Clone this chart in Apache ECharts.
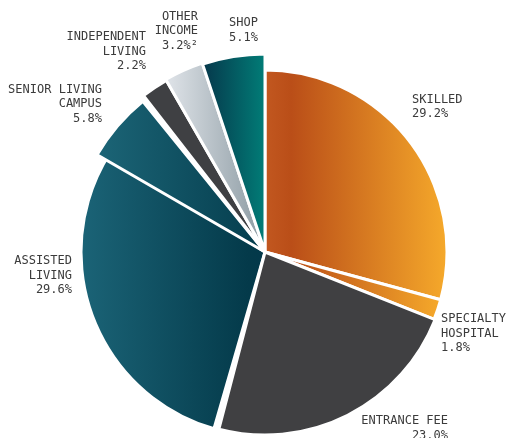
<!DOCTYPE html>
<html>
<head>
<meta charset="utf-8">
<script src="https://cdn.jsdelivr.net/npm/echarts@6/dist/echarts.min.js"></script>
<style>
  html, body { margin: 0; padding: 0; background: #ffffff; }
  #chart { width: 506px; height: 438px; }
</style>
</head>
<body>
<div id="chart"></div>
<script>
// Revenue mix by business line (percent of total), clockwise from 12 o'clock
const categories = ['SKILLED', 'SPECIALTY\nHOSPITAL', 'ENTRANCE FEE', 'ASSISTED\nLIVING',
                    'SENIOR LIVING\nCAMPUS', 'INDEPENDENT\nLIVING', 'OTHER\nINCOME', 'SHOP'];
const shares = [29.2, 1.8, 23.0, 29.6, 5.8, 2.2, 3.2, 5.1];
const footnotes = ['', '', '', '', '', '', '²', ''];

// Styling per slice
const lin = (stops) => new echarts.graphic.LinearGradient(0, 0, 1, 0,
  stops.map(([o, c]) => ({ offset: o, color: c })));
const sliceFill = [
  lin([[0, '#C25820'], [0.15, '#BA4E18'], [1, '#F6AA2B']]),
  lin([[0, '#C25820'], [0.15, '#BA4E18'], [1, '#F6AA2B']]),
  '#404042',
  lin([[0, '#1B6477'], [0.9, '#043A4A'], [1, '#03384A']]),
  lin([[0, '#1C6577'], [1, '#043C4C']]),
  '#3F4043',
  lin([[0, '#E1E5EA'], [1, '#8A99A1']]),
  lin([[0, '#06364A'], [1, '#017E78']])
];
const sliceRadius = [182, 182, 183, 184, 194, 198, 199, 198];
const sliceTurn = [0, 0, 0, -1.5, 1.2, 0, 0, 0];
// label anchor: x, vertical centre, alignment
const labelPos = [
  { x: 412, y: 106.7, align: 'left' },
  { x: 441, y: 333.5, align: 'left' },
  { x: 448, y: 428.3, align: 'right' },
  { x: 72,  y: 275.4, align: 'right' },
  { x: 102, y: 104.2, align: 'right' },
  { x: 146, y: 51.6,  align: 'right' },
  { x: 198, y: 31.2,  align: 'right' },
  { x: 258, y: 30.2,  align: 'right' }
];
// paint order: lower slices first so neighbours cover the rotated edges
const drawOrder = [3, 4, 0, 1, 2, 5, 6, 7];

const CENTER = [265, 252];

function sliceSeries(k) {
  return {
    type: 'pie',
    center: CENTER,
    radius: [0, sliceRadius[k]],
    startAngle: 90 + sliceTurn[k],
    clockwise: true,
    silent: true,
    animation: false,
    avoidLabelOverlap: false,
    labelLine: { show: false },
    emphasis: { disabled: true },
    label: {
      position: 'outside',
      fontFamily: 'DejaVu Sans Mono',
      fontSize: 12,
      lineHeight: 14.6,
      color: '#3b3b3b',
      formatter: (p) => p.name + '\n' + p.value.toFixed(1) + '%' + footnotes[p.dataIndex]
    },
    labelLayout: (params) => {
      const lp = labelPos[params.dataIndex];
      return { x: lp.x, y: lp.y, align: lp.align, verticalAlign: 'middle' };
    },
    data: shares.map((v, i) => ({
      value: v,
      name: categories[i],
      itemStyle: i === k
        ? { color: sliceFill[i], borderColor: '#ffffff', borderWidth: 3 }
        : { color: 'rgba(0,0,0,0)', borderWidth: 0 },
      label: { show: i === k }
    }))
  };
}

const chart = echarts.init(document.getElementById('chart'), null, { renderer: 'canvas' });
chart.setOption({
  backgroundColor: '#ffffff',
  series: drawOrder.map(sliceSeries)
});
</script>
</body>
</html>
